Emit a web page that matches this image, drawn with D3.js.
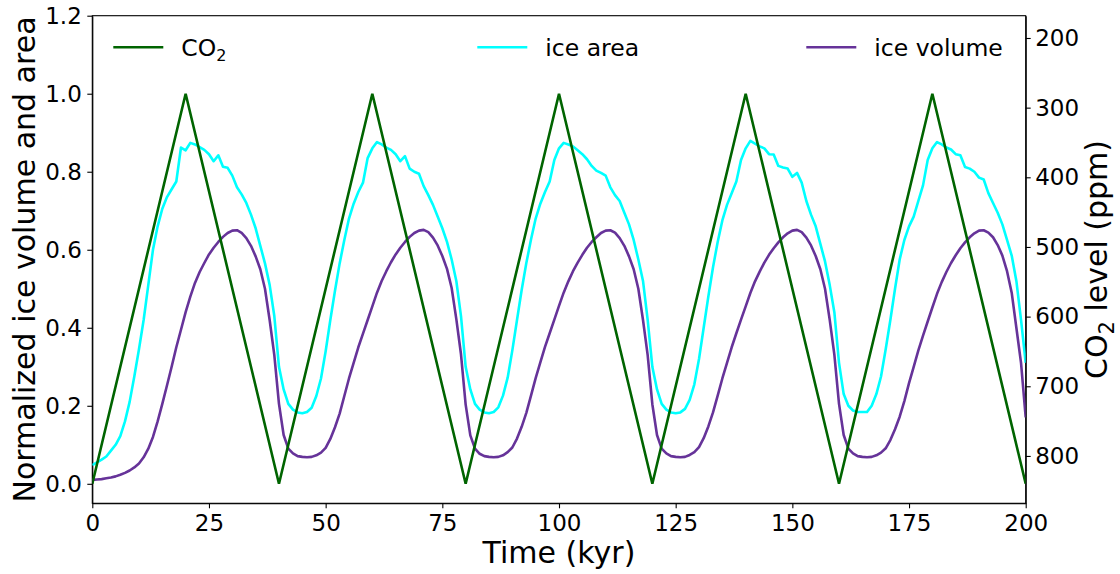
<!DOCTYPE html>
<html>
<head>
<meta charset="utf-8">
<script src="https://cdn.jsdelivr.net/npm/d3@7"></script>
<style>
  body { margin: 0; background: #fff; }
  text { font-family: "DejaVu Sans", sans-serif; fill: #000; }
  .axis path, .axis line { stroke: #000; stroke-width: 1.1; }
</style>
</head>
<body>
<div id="chart"></div>
<script>
// time sampling (kyr)
const years = d3.range(0, 201);

// CO2 forcing: triangle wave corners (kyr, ppm)
const co2Years = [0, 20, 40, 60, 80, 100, 120, 140, 160, 180, 200];
const co2Ppm = [840, 280, 840, 280, 840, 280, 840, 280, 840, 280, 840];

// normalized ice area, one value per kyr
const iceArea = [
  0.048, 0.055, 0.062, 0.070, 0.085, 0.100, 0.122, 0.160, 0.210, 0.275,
  0.345, 0.420, 0.510, 0.600, 0.660, 0.705, 0.735, 0.755, 0.775, 0.862,
  0.855, 0.874, 0.870, 0.863, 0.856, 0.845, 0.827, 0.842, 0.813, 0.810,
  0.790, 0.760, 0.742, 0.720, 0.690, 0.655, 0.610, 0.565, 0.510, 0.430,
  0.300, 0.242, 0.205, 0.190, 0.183, 0.181, 0.184, 0.195, 0.225, 0.270,
  0.340, 0.420, 0.495, 0.565, 0.625, 0.680, 0.718, 0.748, 0.772, 0.835,
  0.860, 0.876, 0.870, 0.862, 0.856, 0.845, 0.827, 0.840, 0.808, 0.800,
  0.795, 0.763, 0.740, 0.715, 0.685, 0.655, 0.620, 0.575, 0.520, 0.430,
  0.300, 0.242, 0.205, 0.190, 0.183, 0.181, 0.184, 0.196, 0.226, 0.272,
  0.342, 0.420, 0.497, 0.566, 0.626, 0.680, 0.718, 0.748, 0.775, 0.830,
  0.860, 0.874, 0.870, 0.865, 0.855, 0.845, 0.832, 0.815, 0.803, 0.797,
  0.790, 0.760, 0.740, 0.725, 0.695, 0.665, 0.625, 0.575, 0.520, 0.420,
  0.300, 0.242, 0.205, 0.190, 0.183, 0.181, 0.183, 0.192, 0.215, 0.255,
  0.320, 0.400, 0.480, 0.555, 0.620, 0.675, 0.715, 0.745, 0.775, 0.830,
  0.860, 0.879, 0.872, 0.865, 0.860, 0.845, 0.844, 0.815, 0.811, 0.808,
  0.787, 0.797, 0.772, 0.725, 0.690, 0.660, 0.615, 0.570, 0.510, 0.440,
  0.310, 0.230, 0.200, 0.188, 0.184, 0.184, 0.184, 0.200, 0.230, 0.275,
  0.345, 0.420, 0.500, 0.575, 0.625, 0.660, 0.685, 0.725, 0.765, 0.830,
  0.860, 0.876, 0.870, 0.862, 0.857, 0.845, 0.842, 0.812, 0.808, 0.800,
  0.785, 0.780, 0.745, 0.720, 0.695, 0.665, 0.625, 0.585, 0.520, 0.420,
  0.310
];

// normalized ice volume, one value per kyr
const iceVolume = [
  0.010, 0.011, 0.012, 0.014, 0.016, 0.019, 0.023, 0.028, 0.034, 0.042,
  0.052, 0.068, 0.090, 0.120, 0.160, 0.205, 0.252, 0.300, 0.350, 0.395,
  0.440, 0.480, 0.515, 0.543, 0.566, 0.588, 0.605, 0.620, 0.633, 0.643,
  0.649, 0.650, 0.643, 0.630, 0.610, 0.583, 0.550, 0.500, 0.420, 0.330,
  0.205, 0.125, 0.090, 0.078, 0.071, 0.069, 0.068, 0.069, 0.073, 0.080,
  0.092, 0.115, 0.145, 0.180, 0.225, 0.270, 0.310, 0.350, 0.385, 0.420,
  0.455, 0.490, 0.520, 0.545, 0.568, 0.588, 0.605, 0.620, 0.633, 0.643,
  0.649, 0.651, 0.645, 0.631, 0.611, 0.584, 0.551, 0.502, 0.422, 0.332,
  0.203, 0.124, 0.090, 0.077, 0.071, 0.069, 0.068, 0.069, 0.073, 0.081,
  0.093, 0.116, 0.146, 0.182, 0.226, 0.271, 0.311, 0.351, 0.386, 0.421,
  0.456, 0.490, 0.519, 0.545, 0.567, 0.587, 0.605, 0.620, 0.632, 0.643,
  0.649, 0.650, 0.644, 0.630, 0.610, 0.583, 0.550, 0.500, 0.420, 0.330,
  0.204, 0.125, 0.090, 0.078, 0.071, 0.069, 0.068, 0.069, 0.074, 0.081,
  0.094, 0.117, 0.147, 0.183, 0.226, 0.270, 0.310, 0.350, 0.386, 0.421,
  0.455, 0.489, 0.519, 0.544, 0.567, 0.587, 0.604, 0.619, 0.632, 0.642,
  0.649, 0.651, 0.645, 0.631, 0.611, 0.584, 0.550, 0.500, 0.421, 0.331,
  0.205, 0.125, 0.090, 0.078, 0.071, 0.069, 0.068, 0.069, 0.073, 0.080,
  0.091, 0.112, 0.140, 0.172, 0.212, 0.258, 0.300, 0.342, 0.380, 0.416,
  0.452, 0.487, 0.517, 0.543, 0.566, 0.586, 0.604, 0.619, 0.632, 0.642,
  0.649, 0.650, 0.644, 0.632, 0.612, 0.585, 0.545, 0.490, 0.400, 0.310,
  0.170
];

const xTicks = [0, 25, 50, 75, 100, 125, 150, 175, 200];
const leftTicks = [0.0, 0.2, 0.4, 0.6, 0.8, 1.0, 1.2];
const rightTicks = [200, 300, 400, 500, 600, 700, 800];

const width = 1120, height = 574;
const margin = {top: 15.7, right: 94.3, bottom: 70.7, left: 92.3};
const plotW = width - margin.left - margin.right;
const plotH = height - margin.top - margin.bottom;

const svg = d3.select('#chart')
    .append('svg')
    .attr('width', width)
    .attr('height', height);

const g = svg.append('g')
    .attr('transform', `translate(${margin.left},${margin.top})`);

const x = d3.scaleLinear().domain([0, 200]).range([0, plotW]);
const yLeft = d3.scaleLinear().domain([-0.05, 1.2]).range([plotH, 0]);
const yRight = d3.scaleLinear().domain([868, 168]).range([plotH, 0]);

// axes
g.append('g')
    .attr('class', 'axis')
    .attr('transform', `translate(0,${plotH})`)
    .call(d3.axisBottom(x).tickValues(xTicks).tickSize(5).tickPadding(6.5).tickSizeOuter(0));

g.append('g')
    .attr('class', 'axis')
    .call(d3.axisLeft(yLeft).tickValues(leftTicks).tickFormat(d3.format('.1f'))
        .tickSize(5).tickPadding(5.5).tickSizeOuter(0));

g.append('g')
    .attr('class', 'axis')
    .attr('transform', `translate(${plotW},0)`)
    .call(d3.axisRight(yRight).tickValues(rightTicks).tickSize(5).tickPadding(4.5).tickSizeOuter(0));

g.selectAll('.axis text')
    .style('font-size', '23px')
    .style('font-family', '"DejaVu Sans", sans-serif');

// frame
g.append('rect')
    .attr('width', plotW)
    .attr('height', plotH)
    .attr('fill', 'none')
    .attr('stroke', '#000')
    .attr('stroke-width', 1.1);

svg.append('clipPath').attr('id', 'clip')
    .append('rect').attr('width', plotW).attr('height', plotH);

const lines = g.append('g').attr('clip-path', 'url(#clip)');

const lineLeft = d3.line()
    .x((d, i) => x(years[i]))
    .y(d => yLeft(d));

lines.append('path')
    .datum(iceArea)
    .attr('d', lineLeft)
    .attr('fill', 'none')
    .attr('stroke', '#00ffff')
    .attr('stroke-width', 2.6)
    .attr('stroke-linejoin', 'round');

lines.append('path')
    .datum(iceVolume)
    .attr('d', lineLeft)
    .attr('fill', 'none')
    .attr('stroke', '#663399')
    .attr('stroke-width', 2.6)
    .attr('stroke-linejoin', 'round');

const co2Line = d3.line()
    .x((d, i) => x(co2Years[i]))
    .y(d => yRight(d));

lines.append('path')
    .datum(co2Ppm)
    .attr('d', co2Line)
    .attr('fill', 'none')
    .attr('stroke', '#006400')
    .attr('stroke-width', 2.6);

// axis labels
svg.append('text')
    .attr('x', margin.left + plotW / 2)
    .attr('y', 563)
    .attr('text-anchor', 'middle')
    .style('font-size', '30px')
    .text('Time (kyr)');

svg.append('text')
    .attr('transform', `translate(35,${margin.top + plotH / 2}) rotate(-90)`)
    .attr('text-anchor', 'middle')
    .style('font-size', '30px')
    .text('Normalized ice volume and area');

const rightLabel = svg.append('text')
    .attr('transform', `translate(1107,${margin.top + plotH / 2}) rotate(-90)`)
    .attr('text-anchor', 'middle')
    .style('font-size', '30px');
rightLabel.append('tspan').text('CO');
rightLabel.append('tspan').attr('dy', 7).style('font-size', '21px').text('2');
rightLabel.append('tspan').attr('dy', -7).text(' level (ppm)');

// legend
const legendItems = [
  {name: 'CO', sub: '2', color: '#006400', x: 21},
  {name: 'ice area', color: '#00ffff', x: 385},
  {name: 'ice volume', color: '#663399', x: 714}
];

const legend = g.selectAll('.legend')
    .data(legendItems)
    .enter()
    .append('g')
    .attr('class', 'legend')
    .attr('transform', d => `translate(${d.x},31.5)`);

legend.append('line')
    .attr('x1', 0).attr('x2', 50)
    .attr('stroke', d => d.color)
    .attr('stroke-width', 2.6);

const legendText = legend.append('text')
    .attr('x', 68)
    .attr('y', 8.5)
    .style('font-size', '23.5px');

legendText.append('tspan').text(d => d.name);
legendText.filter(d => d.sub)
    .append('tspan')
    .attr('dy', 5)
    .style('font-size', '16px')
    .text(d => d.sub);
</script>
</body>
</html>
